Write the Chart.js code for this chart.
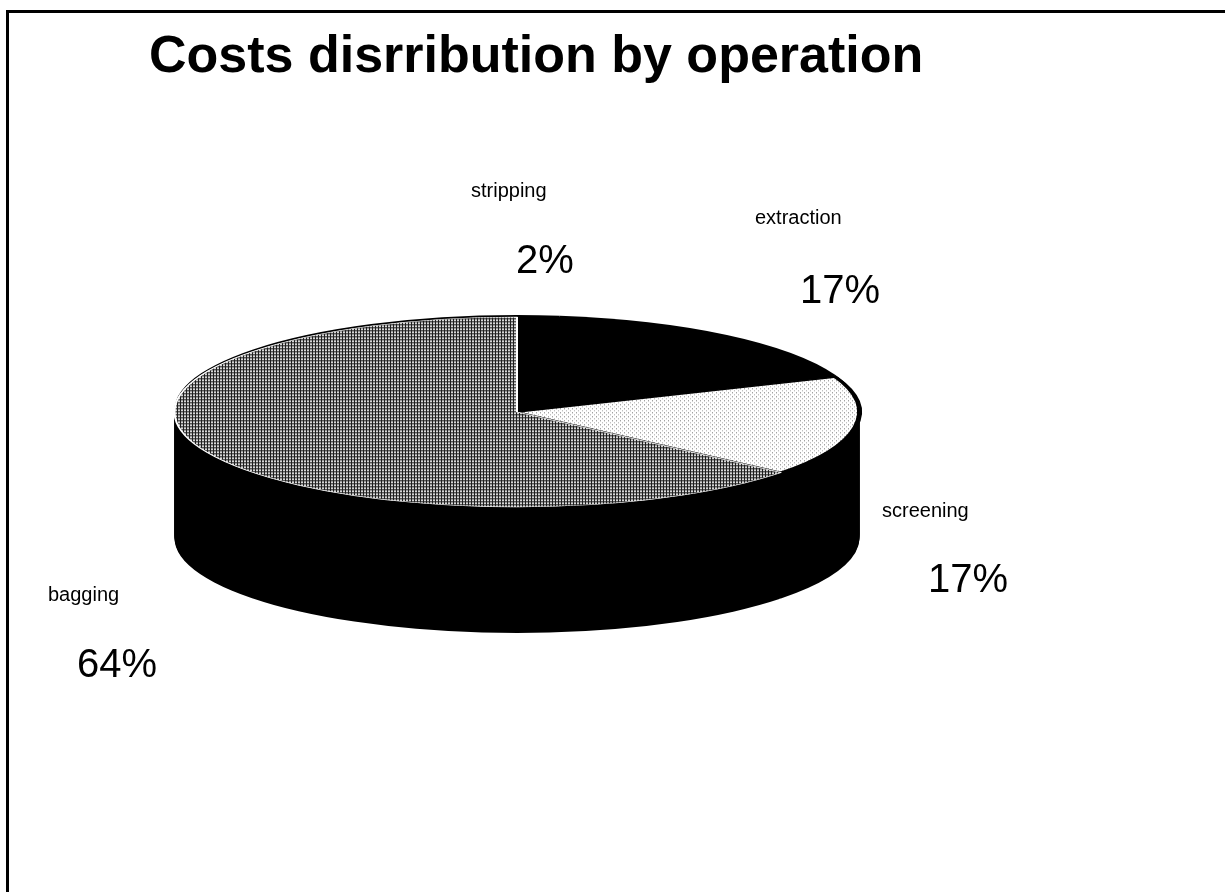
<!DOCTYPE html>
<html>
<head>
<meta charset="utf-8">
<script src="https://cdn.jsdelivr.net/npm/chart.js@4.4.0/dist/chart.umd.min.js"></script>
<style>
  html, body { margin: 0; padding: 0; background: #fff; overflow: hidden; }
  #frame { position: absolute; left: 6px; top: 10px; width: 1230px; height: 900px;
           border-left: 3px solid #000; border-top: 3px solid #000; }
  #wrap { position: absolute; left: 0; top: 0; width: 1225px; height: 892px; }
</style>
</head>
<body>
<div id="frame"></div>
<div id="wrap"><canvas id="chart" width="1225" height="892"></canvas></div>
<script>
// =========================
// DATA
// =========================
const categories = ["stripping", "extraction", "screening", "bagging"];
const shares = [2, 17, 17, 64];
const chartTitle = "Costs disrribution by operation";

// label spots (name + percent), layout only
const labelSpots = [
  { nx: 471, ny: 197, px: 516, py: 273 },
  { nx: 755, ny: 224, px: 800, py: 303 },
  { nx: 882, ny: 517, px: 928, py: 592 },
  { nx: 48,  ny: 601, px: 77,  py: 677 }
];

// =========================
// 3D LOOK
// =========================
const RY = 95;       // vertical radius of the top face
const TOP_CY = 412;  // centre of the top face on screen
const DEPTH = 126;   // thickness of the pie

function makePattern(size, paint) {
  const c = document.createElement("canvas");
  c.width = size; c.height = size;
  const g = c.getContext("2d");
  paint(g);
  return document.getElementById("chart").getContext("2d").createPattern(c, "repeat");
}

// mesh grey for bagging
const bagPattern = makePattern(3, g => {
  g.fillStyle = "#d6d6d6"; g.fillRect(0, 0, 3, 3);
  g.fillStyle = "#1e1e1e"; g.fillRect(0, 0, 3, 1); g.fillRect(0, 0, 1, 3);
});
// light dots for screening
const screenPattern = makePattern(4, g => {
  g.fillStyle = "#ffffff"; g.fillRect(0, 0, 4, 4);
  g.fillStyle = "#7a7a7a"; g.fillRect(0, 0, 1, 1);
  g.fillStyle = "#a8a8a8"; g.fillRect(2, 2, 1, 1);
});

function squash(ctx, arc, k, d) {
  ctx.translate(0, TOP_CY + d);
  ctx.scale(1, k);
  ctx.translate(0, -arc.y);
}

const pie3d = {
  id: "pie3d",
  beforeDatasetsDraw(chart) {
    const ctx = chart.ctx;
    const arcs = chart.getDatasetMeta(0).data;
    const a0 = arcs[0];
    const k = RY / a0.outerRadius;

    // side wall: stack the slices downwards in black
    ctx.fillStyle = "#000";
    for (let d = DEPTH; d >= -2; d--) {
      ctx.save();
      squash(ctx, a0, k, d);
      arcs.forEach(a => {
        ctx.beginPath();
        ctx.moveTo(a.x, a.y);
        ctx.arc(a.x, a.y, a.outerRadius, a.startAngle, a.endAngle);
        ctx.closePath();
        ctx.fill();
      });
      ctx.restore();
    }

    // keep the texture square on the flattened face
    const m = new DOMMatrix().scale(1, 1 / k);
    bagPattern.setTransform(m);
    screenPattern.setTransform(m);

    ctx.save();
    squash(ctx, a0, k, 0);
  },
  afterDatasetsDraw(chart) {
    chart.ctx.restore();
  },
  afterDraw(chart) {
    const ctx = chart.ctx;
    const total = shares.reduce((s, v) => s + v, 0);
    ctx.save();
    ctx.fillStyle = "#000";
    ctx.textAlign = "left";
    ctx.textBaseline = "alphabetic";

    ctx.font = "bold 52px 'Liberation Sans', Arial, sans-serif";
    ctx.fillText(chartTitle, 149, 72);

    categories.forEach((name, i) => {
      const s = labelSpots[i];
      ctx.font = "20px 'Liberation Sans', Arial, sans-serif";
      ctx.fillText(name, s.nx, s.ny);
      ctx.font = "40px 'Liberation Sans', Arial, sans-serif";
      ctx.fillText(Math.round(shares[i] / total * 100) + "%", s.px, s.py);
    });
    ctx.restore();
  }
};

// =========================
// CHART
// =========================
new Chart(document.getElementById("chart"), {
  type: "pie",
  data: {
    labels: categories,
    datasets: [{
      data: shares,
      backgroundColor: ["#000000", "#000000", screenPattern, bagPattern],
      borderColor: ["#000000", "#000000", "#000000", "#ffffff"],
      borderWidth: [2, 2, 5, 2]
    }]
  },
  options: {
    responsive: false,
    animation: false,
    events: [],
    layout: { padding: { left: 172, right: 363, top: 101, bottom: 101 } },
    plugins: {
      legend: { display: false },
      tooltip: { enabled: false },
      title: { display: false }
    }
  },
  plugins: [pie3d]
});
</script>
</body>
</html>
